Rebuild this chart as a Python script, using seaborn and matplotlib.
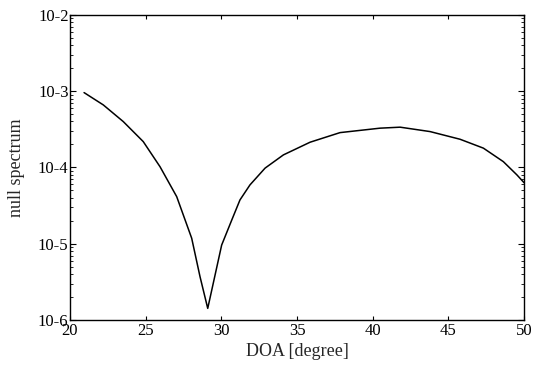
import matplotlib
matplotlib.use("Agg")
import matplotlib.pyplot as plt
import seaborn as sns
import pandas as pd
import numpy as np
from matplotlib.ticker import FixedLocator, FixedFormatter, LogLocator, NullFormatter

doa = [20.93, 22.20, 23.52, 24.84, 25.95, 27.05, 28.04, 28.59, 29.10, 30.02, 30.69,
       31.23, 31.89, 32.89, 34.10, 35.86, 37.84, 40.48, 41.81, 43.79, 45.77, 47.31,
       48.63, 49.52, 50.0]
spectrum = [9.57e-4, 6.6e-4, 3.99e-4, 2.18e-4, 1.02e-4, 4.14e-5, 1.18e-5, 3.7e-6,
            1.42e-6, 9.6e-6, 2.05e-5, 3.75e-5, 5.9e-5, 9.8e-5, 1.46e-4, 2.14e-4,
            2.86e-4, 3.27e-4, 3.37e-4, 2.95e-4, 2.34e-4, 1.79e-4, 1.19e-4, 8.0e-5, 6.3e-5]
x_ticks = [20, 25, 30, 35, 40, 45, 50]
y_ticks = [1e-6, 1e-5, 1e-4, 1e-3, 1e-2]
y_tick_labels = ["10-6", "10-5", "10-4", "10-3", "10-2"]

sns.set_style("ticks")
plt.rcParams["font.family"] = ["Liberation Serif", "DejaVu Serif"]

df = pd.DataFrame({"DOA": doa, "spec": spectrum})

fig = plt.figure(figsize=(5.33, 3.65), dpi=100)
ax = fig.add_axes([0.1313, 0.1233, 0.852, 0.836])
sns.lineplot(data=df, x="DOA", y="spec", ax=ax, color="black", linewidth=1.1)
ax.set_yscale("log")
ax.set_xlim(20, 50)
ax.set_ylim(1e-6, 1e-2)

ax.xaxis.set_major_locator(FixedLocator(x_ticks))
ax.set_xticklabels([str(t) for t in x_ticks])
ax.yaxis.set_major_locator(FixedLocator(y_ticks))
ax.yaxis.set_major_formatter(FixedFormatter(y_tick_labels))
ax.yaxis.set_minor_locator(LogLocator(base=10, subs=np.arange(2, 10)))
ax.yaxis.set_minor_formatter(NullFormatter())

ax.tick_params(which="both", direction="in", top=True, right=True, colors="black",
               labelsize=12)
ax.tick_params(axis="x", which="major", length=3, width=0.8, pad=2)
ax.tick_params(axis="y", which="major", length=4, width=0.8, pad=1)
ax.tick_params(which="minor", length=2.5, width=0.6)
for s in ax.spines.values():
    s.set_visible(True)
    s.set_color("black")
    s.set_linewidth(1.0)

ax.set_xlabel("DOA [degree]", fontsize=13, labelpad=3)
ax.set_ylabel("null spectrum", fontsize=13, labelpad=9)

fig.savefig("out.png", dpi=100)
